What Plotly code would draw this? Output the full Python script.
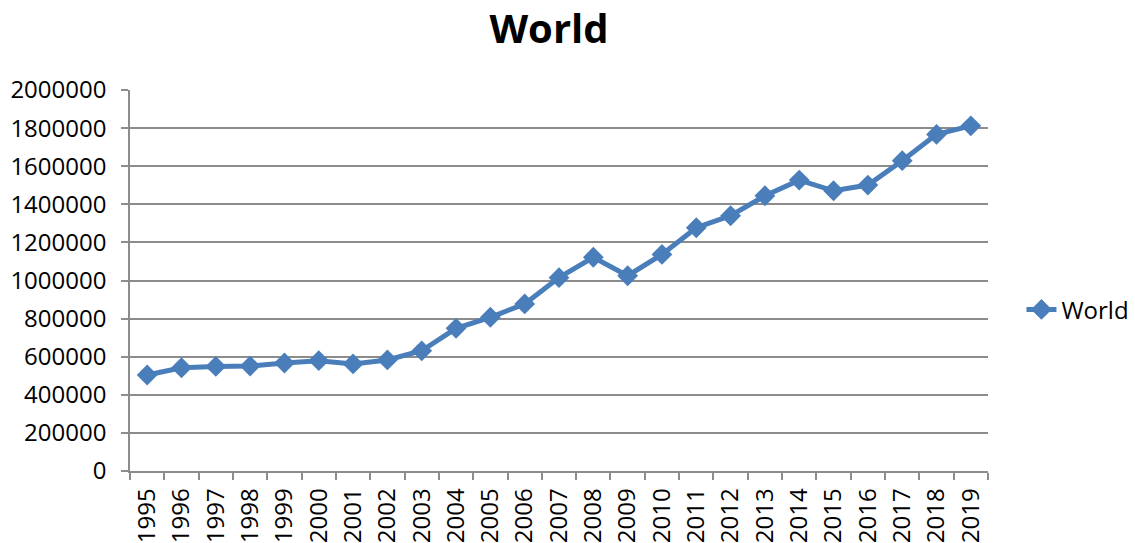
import plotly.graph_objects as go

years = [str(y) for y in range(1995, 2020)]
world = [504000, 542000, 549000, 551000, 567000, 579000, 562000, 583000, 631000, 749000,
         807000, 877000, 1015000, 1122000, 1025000, 1137000, 1277000, 1340000, 1445000, 1527000,
         1471000, 1501000, 1629000, 1767000, 1812000]
ytick_vals = list(range(0, 2000001, 200000))
ytick_text = [str(v) for v in ytick_vals]

FONT = "Open Sans"
BLUE = "#4a7ebb"
GRID = "#8c8c8c"

fig = go.Figure()
fig.add_trace(go.Scatter(
    x=years, y=world, name="World", mode="lines+markers",
    line=dict(color=BLUE, width=5),
    marker=dict(symbol="diamond", size=16, color=BLUE),
))

fig.update_layout(
    width=1135, height=543,
    margin=dict(l=130, r=147, t=90, b=72, autoexpand=False),
    paper_bgcolor="white", plot_bgcolor="white",
    font=dict(family=FONT, size=24, color="black"),
    title=dict(text="<b>World</b>", x=549/1135, xanchor="center", y=1 - 29/543, yanchor="middle",
               font=dict(family=FONT, size=40, color="black")),
    showlegend=True,
    legend=dict(x=1.039, y=0.423, xanchor="left", yanchor="middle",
                font=dict(family=FONT, size=24, color="black"),
                bgcolor="rgba(0,0,0,0)", itemwidth=30, tracegroupgap=0),
)
fig.update_xaxes(
    type="category", range=[-0.5, 24.5], automargin=False,
    tickson="boundaries", ticks="outside", ticklen=7, tickcolor=GRID, tickwidth=1.5,
    showgrid=False, showline=True, linecolor=GRID, linewidth=1.5,
    tickangle=-90, ticklabelstandoff=6,
    tickfont=dict(family=FONT, size=24, color="black"),
)
fig.update_yaxes(
    range=[0, 2000000], tickvals=ytick_vals, ticktext=ytick_text, automargin=False,
    ticks="outside", ticklen=7, tickcolor=GRID, tickwidth=1.5,
    showgrid=True, gridcolor=GRID, gridwidth=1.5,
    showline=True, linecolor=GRID, linewidth=1.5, zeroline=False,
    ticklabelstandoff=10,
    tickfont=dict(family=FONT, size=24, color="black"),
)

fig.write_html("out.html", config={"displayModeBar": False},
               post_script="document.body.style.margin='0';")
